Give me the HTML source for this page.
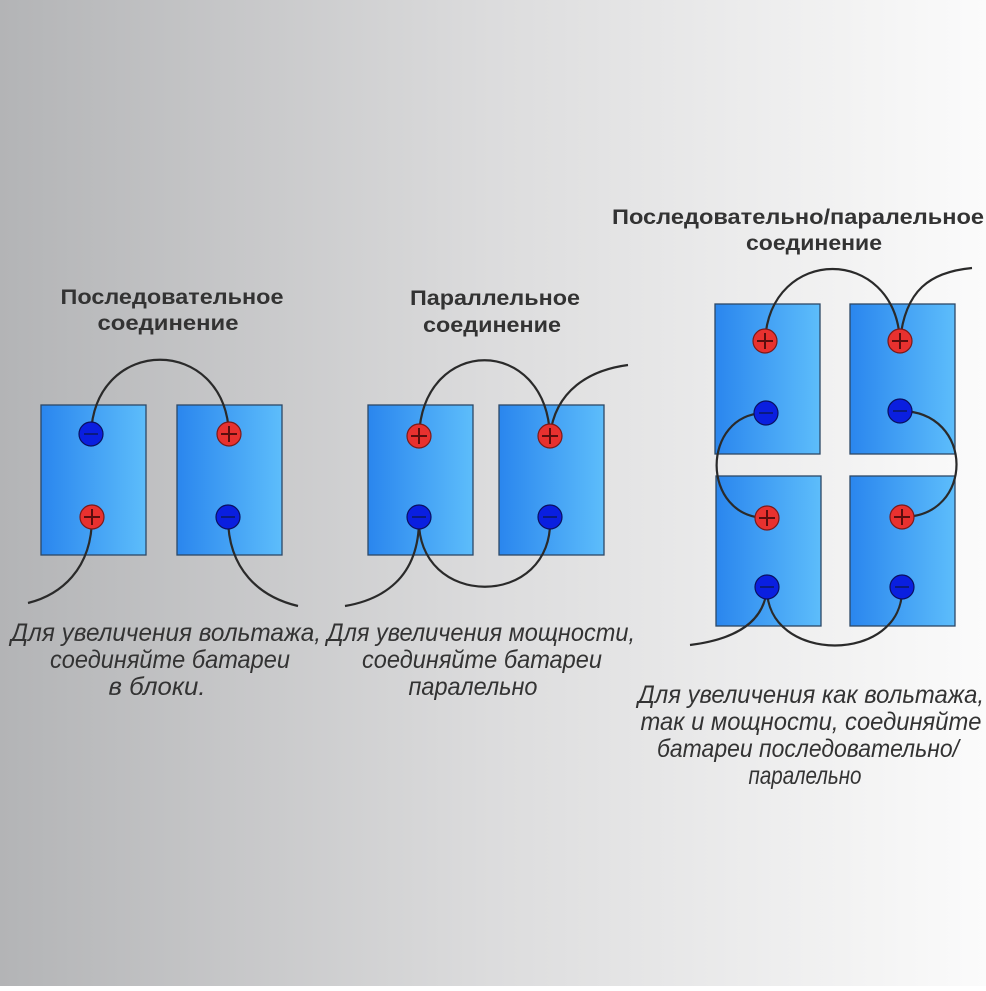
<!DOCTYPE html>
<html><head><meta charset="utf-8"><style>
html,body{margin:0;padding:0}
body{width:986px;height:986px;overflow:hidden}
</style></head><body>
<svg width="986" height="986" viewBox="0 0 986 986" xmlns="http://www.w3.org/2000/svg">
<defs>
<linearGradient id="bg" x1="0" y1="0" x2="1" y2="0">
<stop offset="0" stop-color="#b3b4b6"/><stop offset="0.5" stop-color="#dcdcdd"/><stop offset="1" stop-color="#fbfbfb"/>
</linearGradient>
<linearGradient id="bat" x1="0" y1="0" x2="1" y2="0">
<stop offset="0" stop-color="#2a86ee"/><stop offset="1" stop-color="#5dbdfb"/>
</linearGradient>
<g id="plus"><circle r="12" fill="#e8312f" stroke="#7a1a1a" stroke-width="1.2"/><path d="M-8,0H8M0,-8V8" stroke="#5a0e0e" stroke-width="2"/></g>
<g id="minus"><circle r="12" fill="#0a1fe0" stroke="#0a1060" stroke-width="1.2"/><path d="M-7,0H7" stroke="#0a1a80" stroke-width="2"/></g>
</defs>
<rect width="986" height="986" fill="url(#bg)"/>
<g fill="url(#bat)" stroke="#2c4866" stroke-width="1.3">
<rect x="41" y="405" width="105" height="150"/><rect x="177" y="405" width="105" height="150"/>
<rect x="368" y="405" width="105" height="150"/><rect x="499" y="405" width="105" height="150"/>
<rect x="715" y="304" width="105" height="150"/><rect x="850" y="304" width="105" height="150"/>
<rect x="716" y="476" width="105" height="150"/><rect x="850" y="476" width="105" height="150"/>
</g>
<g fill="none" stroke="#2a2a2a" stroke-width="2.2">
<path d="M91,434 C95,335 225,335 229,434"/>
<path d="M92,517 C92,570 60,595 28,603"/>
<path d="M228,517 C228,570 260,597 298,606"/>
<path d="M419,436 C423,335 546,335 550,436"/>
<path d="M550,436 C555,390 590,370 628,365"/>
<path d="M419,517 C415,610 555,610 550,517"/>
<path d="M419,517 C420,580 380,600 345,606"/>
<path d="M765,341 C770,245 895,245 900,341"/>
<path d="M900,341 C905,290 930,272 972,268"/>
<path d="M766,413 C700,413 700,518 767,518"/>
<path d="M900,411 C975,411 975,517 902,517"/>
<path d="M767,587 C765,665 905,665 902,587"/>
<path d="M767,587 C765,625 730,640 690,645"/>
</g>
<use href="#minus" x="91" y="434"/><use href="#plus" x="92" y="517"/>
<use href="#plus" x="229" y="434"/><use href="#minus" x="228" y="517"/>
<use href="#plus" x="419" y="436"/><use href="#plus" x="550" y="436"/>
<use href="#minus" x="419" y="517"/><use href="#minus" x="550" y="517"/>
<use href="#plus" x="765" y="341"/><use href="#plus" x="900" y="341"/>
<use href="#minus" x="766" y="413"/><use href="#minus" x="900" y="411"/>
<use href="#plus" x="767" y="518"/><use href="#plus" x="902" y="517"/>
<use href="#minus" x="767" y="587"/><use href="#minus" x="902" y="587"/>
<g font-family="Liberation Sans, sans-serif" font-weight="bold" font-size="21" fill="#333" text-anchor="middle">
<text x="172" y="304" textLength="223" lengthAdjust="spacingAndGlyphs">Последовательное</text>
<text x="168" y="330" textLength="141" lengthAdjust="spacingAndGlyphs">соединение</text>
<text x="495" y="305" textLength="170" lengthAdjust="spacingAndGlyphs">Параллельное</text>
<text x="492" y="332" textLength="138" lengthAdjust="spacingAndGlyphs">соединение</text>
<text x="798" y="224" textLength="372" lengthAdjust="spacingAndGlyphs">Последовательно/паралельное</text>
<text x="814" y="250" textLength="136" lengthAdjust="spacingAndGlyphs">соединение</text>
</g>
<g font-family="Liberation Sans, sans-serif" font-style="italic" font-size="25" fill="#333" text-anchor="middle">
<text x="166" y="641" textLength="310" lengthAdjust="spacingAndGlyphs">Для увеличения вольтажа,</text>
<text x="170" y="668" textLength="240" lengthAdjust="spacingAndGlyphs">соединяйте батареи</text>
<text x="157" y="695" textLength="97" lengthAdjust="spacingAndGlyphs">в блоки.</text>
<text x="481" y="641" textLength="308" lengthAdjust="spacingAndGlyphs">Для увеличения мощности,</text>
<text x="482" y="668" textLength="240" lengthAdjust="spacingAndGlyphs">соединяйте батареи</text>
<text x="473" y="695" textLength="129" lengthAdjust="spacingAndGlyphs">паралельно</text>
<text x="811" y="703" textLength="346" lengthAdjust="spacingAndGlyphs">Для увеличения как вольтажа,</text>
<text x="811" y="730" textLength="341" lengthAdjust="spacingAndGlyphs">так и мощности, соединяйте</text>
<text x="808" y="757" textLength="302" lengthAdjust="spacingAndGlyphs">батареи последовательно/</text>
<text x="805" y="784" textLength="113" lengthAdjust="spacingAndGlyphs">паралельно</text>
</g>
</svg>
</body></html>
